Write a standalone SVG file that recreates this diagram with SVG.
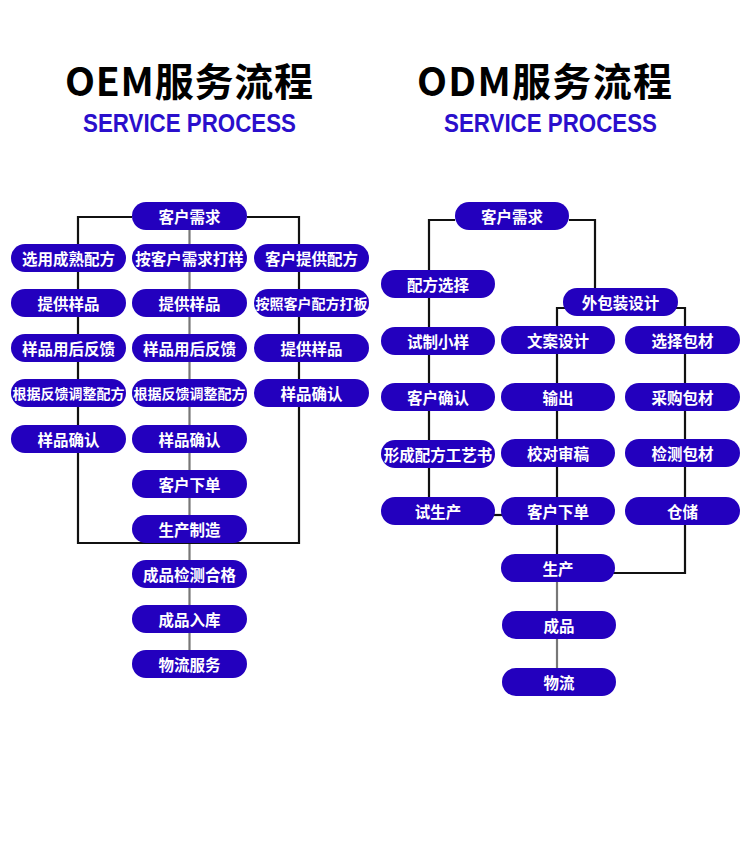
<svg xmlns="http://www.w3.org/2000/svg" width="750" height="853" viewBox="0 0 750 853">
<defs>
<style>
.bg{fill:#ffffff}
.pill rect{fill:#2300be}
.pill text{fill:#ffffff;font-family:"Noto Sans CJK SC","Noto Sans",sans-serif;font-weight:700;font-size:15.5px;text-anchor:middle;dominant-baseline:central}
.pill text.sm{font-size:14px}
.title{fill:#000000;font-family:"Noto Sans CJK SC","Noto Sans",sans-serif;font-weight:700;font-size:39px;text-anchor:middle}
.sub{fill:#2a0fcc;font-family:"Liberation Sans","Noto Sans",sans-serif;font-weight:700;font-size:25px;text-anchor:middle}
.ln{fill:none;stroke:#111111;stroke-width:2.2}
.lg{fill:none;stroke:#777777;stroke-width:2.2}
</style>
</defs>
<rect class="bg" x="0" y="0" width="750" height="853"/>

<g id="titles">
<text class="title" x="189" y="96" textLength="248">OEM服务流程</text>
<text class="sub" x="189.5" y="132" textLength="213" lengthAdjust="spacingAndGlyphs">SERVICE PROCESS</text>
<text class="title" x="544.5" y="96" textLength="255">ODM服务流程</text>
<text class="sub" x="550.5" y="132" textLength="213" lengthAdjust="spacingAndGlyphs">SERVICE PROCESS</text>
</g>

<g id="connectors">
<path class="lg" d="M189.5,230 V664"/>
<path class="ln" d="M132,217 H78 V543 H299 V217 H247"/>
<path class="ln" d="M455,220 H429 V511"/>
<path class="ln" d="M569,220 H595 V300"/>
<path class="ln" d="M557,568 V308 H685 V573 H610"/>
<path class="ln" d="M490,515 H505"/>
<path class="lg" d="M557,582 V682"/>
</g>

<g id="oem-start" class="pill"><rect x="132" y="202" width="115" height="28" rx="14"/><text x="189.5" y="216">客户需求</text></g>

<g id="oem-l1" class="pill"><rect x="11" y="244" width="115" height="28" rx="14"/><text x="68.5" y="258">选用成熟配方</text></g>
<g id="oem-l2" class="pill"><rect x="11" y="289" width="115" height="28" rx="14"/><text x="68.5" y="303">提供样品</text></g>
<g id="oem-l3" class="pill"><rect x="11" y="334" width="115" height="28" rx="14"/><text x="68.5" y="348">样品用后反馈</text></g>
<g id="oem-l4" class="pill"><rect x="11" y="379" width="115" height="28" rx="14"/><text class="sm" x="68.5" y="393">根据反馈调整配方</text></g>
<g id="oem-l5" class="pill"><rect x="11" y="425" width="115" height="28" rx="14"/><text x="68.5" y="439">样品确认</text></g>

<g id="oem-m1" class="pill"><rect x="132" y="244" width="115" height="28" rx="14"/><text x="189.5" y="258">按客户需求打样</text></g>
<g id="oem-m2" class="pill"><rect x="132" y="289" width="115" height="28" rx="14"/><text x="189.5" y="303">提供样品</text></g>
<g id="oem-m3" class="pill"><rect x="132" y="334" width="115" height="28" rx="14"/><text x="189.5" y="348">样品用后反馈</text></g>
<g id="oem-m4" class="pill"><rect x="132" y="379" width="115" height="28" rx="14"/><text class="sm" x="189.5" y="393">根据反馈调整配方</text></g>
<g id="oem-m5" class="pill"><rect x="132" y="425" width="115" height="28" rx="14"/><text x="189.5" y="439">样品确认</text></g>
<g id="oem-m6" class="pill"><rect x="132" y="470" width="115" height="28" rx="14"/><text x="189.5" y="484">客户下单</text></g>
<g id="oem-m7" class="pill"><rect x="132" y="515" width="115" height="28" rx="14"/><text x="189.5" y="529">生产制造</text></g>
<g id="oem-m8" class="pill"><rect x="132" y="560" width="115" height="28" rx="14"/><text x="189.5" y="574">成品检测合格</text></g>
<g id="oem-m9" class="pill"><rect x="132" y="605" width="115" height="28" rx="14"/><text x="189.5" y="619">成品入库</text></g>
<g id="oem-m10" class="pill"><rect x="132" y="650" width="115" height="28" rx="14"/><text x="189.5" y="664">物流服务</text></g>

<g id="oem-r1" class="pill"><rect x="254" y="244" width="115" height="28" rx="14"/><text x="311.5" y="258">客户提供配方</text></g>
<g id="oem-r2" class="pill"><rect x="254" y="289" width="115" height="28" rx="14"/><text class="sm" x="311.5" y="303">按照客户配方打板</text></g>
<g id="oem-r3" class="pill"><rect x="254" y="334" width="115" height="28" rx="14"/><text x="311.5" y="348">提供样品</text></g>
<g id="oem-r4" class="pill"><rect x="254" y="379" width="115" height="28" rx="14"/><text x="311.5" y="393">样品确认</text></g>

<g id="odm-start" class="pill"><rect x="455" y="202" width="114" height="28" rx="14"/><text x="512" y="216">客户需求</text></g>

<g id="odm-l1" class="pill"><rect x="381" y="270" width="114" height="28" rx="14"/><text x="438" y="284">配方选择</text></g>
<g id="odm-l2" class="pill"><rect x="381" y="327" width="114" height="28" rx="14"/><text x="438" y="341">试制小样</text></g>
<g id="odm-l3" class="pill"><rect x="381" y="383" width="114" height="28" rx="14"/><text x="438" y="397">客户确认</text></g>
<g id="odm-l4" class="pill"><rect x="381" y="440" width="114" height="28" rx="14"/><text x="438" y="454">形成配方工艺书</text></g>
<g id="odm-l5" class="pill"><rect x="381" y="497" width="114" height="28" rx="14"/><text x="438" y="511">试生产</text></g>

<g id="odm-pack" class="pill"><rect x="563" y="288" width="115" height="28" rx="14"/><text x="620.5" y="302">外包装设计</text></g>

<g id="odm-m1" class="pill"><rect x="501" y="326" width="114" height="28" rx="14"/><text x="558" y="340">文案设计</text></g>
<g id="odm-m2" class="pill"><rect x="501" y="383" width="114" height="28" rx="14"/><text x="558" y="397">输出</text></g>
<g id="odm-m3" class="pill"><rect x="501" y="439" width="114" height="28" rx="14"/><text x="558" y="453">校对审稿</text></g>
<g id="odm-m4" class="pill"><rect x="501" y="497" width="114" height="28" rx="14"/><text x="558" y="511">客户下单</text></g>
<g id="odm-m5" class="pill"><rect x="501" y="554" width="114" height="28" rx="14"/><text x="558" y="568">生产</text></g>
<g id="odm-m6" class="pill"><rect x="502" y="611" width="114" height="28" rx="14"/><text x="559" y="625">成品</text></g>
<g id="odm-m7" class="pill"><rect x="502" y="668" width="114" height="28" rx="14"/><text x="559" y="682">物流</text></g>

<g id="odm-r1" class="pill"><rect x="625" y="326" width="115" height="28" rx="14"/><text x="682.5" y="340">选择包材</text></g>
<g id="odm-r2" class="pill"><rect x="625" y="383" width="115" height="28" rx="14"/><text x="682.5" y="397">采购包材</text></g>
<g id="odm-r3" class="pill"><rect x="625" y="439" width="115" height="28" rx="14"/><text x="682.5" y="453">检测包材</text></g>
<g id="odm-r4" class="pill"><rect x="625" y="497" width="115" height="28" rx="14"/><text x="682.5" y="511">仓储</text></g>
</svg>
